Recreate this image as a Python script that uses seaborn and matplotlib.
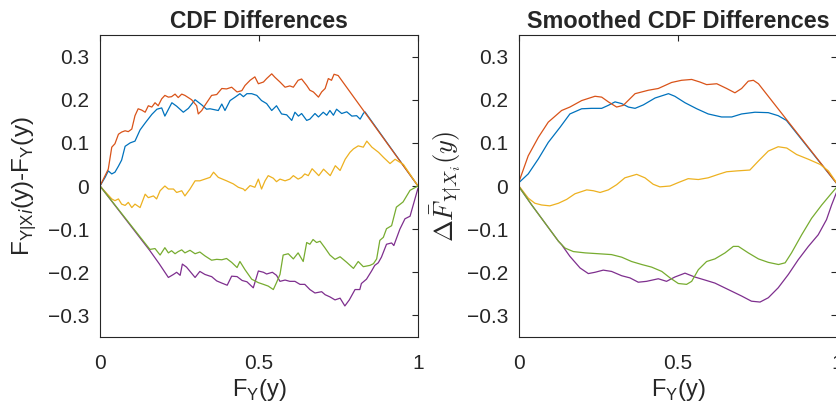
import numpy as np
import pandas as pd
import seaborn as sns
import matplotlib
matplotlib.use("Agg")
import matplotlib.pyplot as plt
from matplotlib.ticker import FuncFormatter

# ---- data ----
series_names = ["s1", "s2", "s3", "s4", "s5"]
line_colors = ["#0072BD", "#D95319", "#EDB120", "#7E2F8E", "#77AC30"]

# left panel: raw CDF differences
raw_x1 = [0, 0.016, 0.026, 0.037, 0.047, 0.058, 0.068, 0.079, 0.095, 0.11, 0.126, 0.142, 0.163, 0.179,
          0.194, 0.204, 0.226, 0.241, 0.262, 0.278, 0.299, 0.32, 0.335, 0.346, 0.372, 0.383, 0.393,
          0.409, 0.425, 0.44, 0.451, 0.462, 0.477, 0.493, 0.508, 0.524, 0.54, 0.555, 0.571, 0.587,
          0.603, 0.613, 0.624, 0.634, 0.65, 0.66, 0.676, 0.687, 0.702, 0.713, 0.723, 0.734, 0.744,
          0.76, 0.776, 0.792, 0.807, 0.818, 0.828, 0.833, 1.0]
raw_y1 = [0, 0.02, 0.035, 0.028, 0.032, 0.046, 0.06, 0.092, 0.1, 0.104, 0.13, 0.146, 0.166, 0.178,
          0.181, 0.162, 0.193, 0.185, 0.171, 0.18, 0.2, 0.188, 0.178, 0.179, 0.175, 0.19, 0.175,
          0.198, 0.206, 0.214, 0.207, 0.214, 0.214, 0.21, 0.198, 0.191, 0.175, 0.186, 0.167, 0.165,
          0.152, 0.171, 0.162, 0.168, 0.152, 0.155, 0.168, 0.16, 0.171, 0.164, 0.175, 0.164, 0.178,
          0.168, 0.172, 0.162, 0.163, 0.155, 0.168, 0.172, 0.0]

raw_x2 = [0, 0.016, 0.026, 0.037, 0.047, 0.058, 0.068, 0.079, 0.089, 0.1, 0.11, 0.12, 0.131, 0.142,
          0.152, 0.163, 0.173, 0.183, 0.194, 0.204, 0.215, 0.225, 0.236, 0.246, 0.257, 0.267, 0.288,
          0.304, 0.309, 0.32, 0.33, 0.351, 0.367, 0.383, 0.398, 0.414, 0.431, 0.446, 0.456, 0.472,
          0.487, 0.498, 0.514, 0.524, 0.54, 0.55, 0.566, 0.582, 0.597, 0.608, 0.623, 0.634, 0.65,
          0.66, 0.671, 0.687, 0.697, 0.708, 0.718, 0.728, 0.736, 0.749, 1.0]
raw_y2 = [0, 0.024, 0.039, 0.09, 0.098, 0.12, 0.125, 0.128, 0.126, 0.132, 0.163, 0.179, 0.176, 0.171,
          0.186, 0.183, 0.193, 0.186, 0.202, 0.21, 0.206, 0.207, 0.213, 0.205, 0.213, 0.21, 0.2,
          0.186, 0.167, 0.175, 0.187, 0.21, 0.212, 0.226, 0.225, 0.229, 0.218, 0.221, 0.233, 0.245,
          0.253, 0.237, 0.241, 0.249, 0.26, 0.252, 0.241, 0.229, 0.232, 0.229, 0.245, 0.248, 0.233,
          0.222, 0.218, 0.206, 0.218, 0.226, 0.249, 0.245, 0.259, 0.256, 0.0]

raw_x3 = [0, 0.037, 0.047, 0.058, 0.068, 0.079, 0.089, 0.1, 0.11, 0.126, 0.142, 0.152, 0.168, 0.178,
          0.189, 0.204, 0.215, 0.231, 0.241, 0.257, 0.267, 0.283, 0.299, 0.314, 0.33, 0.346, 0.357,
          0.372, 0.398, 0.419, 0.435, 0.451, 0.456, 0.472, 0.487, 0.498, 0.508, 0.519, 0.529, 0.545,
          0.555, 0.566, 0.582, 0.597, 0.608, 0.623, 0.634, 0.644, 0.655, 0.667, 0.688, 0.703, 0.724,
          0.74, 0.755, 0.771, 0.786, 0.797, 0.812, 0.828, 0.839, 0.855, 0.876, 0.892, 0.912, 0.928,
          0.943, 0.954, 1.0]
raw_y3 = [0, -0.03, -0.034, -0.03, -0.042, -0.045, -0.038, -0.05, -0.042, -0.05, -0.019, -0.027,
          -0.023, -0.03, -0.011, 0.0, -0.007, -0.007, -0.015, -0.011, -0.023, -0.007, 0.012, 0.012,
          0.016, 0.02, 0.032, 0.02, 0.012, 0.005, -0.003, -0.007, -0.011, 0.001, -0.003, 0.016,
          -0.007, 0.012, 0.024, 0.018, 0.01, 0.016, 0.012, 0.016, 0.024, 0.016, 0.02, 0.028, 0.024,
          0.04, 0.024, 0.039, 0.024, 0.047, 0.036, 0.062, 0.078, 0.086, 0.093, 0.09, 0.104, 0.09,
          0.078, 0.066, 0.052, 0.062, 0.055, 0.05, 0.0]

raw_x4 = [0, 0.157, 0.186, 0.215, 0.231, 0.241, 0.252, 0.259, 0.272, 0.299, 0.314, 0.33, 0.346, 0.351,
          0.367, 0.383, 0.4, 0.414, 0.431, 0.447, 0.462, 0.482, 0.498, 0.514, 0.524, 0.542, 0.555,
          0.566, 0.582, 0.597, 0.613, 0.629, 0.644, 0.66, 0.676, 0.697, 0.708, 0.723, 0.739, 0.755,
          0.77, 0.78, 0.784, 0.802, 0.817, 0.822, 0.838, 0.854, 0.864, 0.875, 0.885, 0.901, 0.917,
          0.924, 0.943, 0.959, 0.975, 0.985, 1.0]
raw_y4 = [0, -0.15, -0.18, -0.212, -0.205, -0.2, -0.207, -0.181, -0.188, -0.212, -0.198, -0.205,
          -0.209, -0.21, -0.22, -0.225, -0.23, -0.209, -0.21, -0.219, -0.222, -0.236, -0.197, -0.2,
          -0.204, -0.2, -0.207, -0.221, -0.218, -0.221, -0.221, -0.228, -0.228, -0.24, -0.248,
          -0.245, -0.252, -0.257, -0.264, -0.26, -0.278, -0.268, -0.264, -0.24, -0.24, -0.226,
          -0.216, -0.197, -0.184, -0.178, -0.165, -0.135, -0.132, -0.138, -0.1, -0.076, -0.07,
          -0.044, -0.005]

raw_x5 = [0, 0.157, 0.173, 0.189, 0.204, 0.215, 0.225, 0.236, 0.246, 0.257, 0.267, 0.283, 0.299,
          0.314, 0.33, 0.351, 0.367, 0.383, 0.398, 0.414, 0.431, 0.44, 0.456, 0.477, 0.498, 0.514,
          0.529, 0.545, 0.555, 0.566, 0.576, 0.592, 0.608, 0.623, 0.639, 0.65, 0.66, 0.67, 0.681,
          0.692, 0.707, 0.723, 0.739, 0.755, 0.776, 0.797, 0.812, 0.828, 0.849, 0.86, 0.87, 0.88,
          0.891, 0.901, 0.917, 0.932, 0.953, 0.975, 1.0]
raw_y5 = [0, -0.147, -0.145, -0.16, -0.143, -0.155, -0.15, -0.157, -0.152, -0.148, -0.155, -0.149,
          -0.157, -0.153, -0.162, -0.172, -0.17, -0.171, -0.168, -0.177, -0.189, -0.175, -0.194,
          -0.216, -0.224, -0.228, -0.232, -0.24, -0.224, -0.205, -0.16, -0.157, -0.169, -0.155,
          -0.175, -0.131, -0.135, -0.124, -0.131, -0.128, -0.143, -0.16, -0.17, -0.164, -0.177,
          -0.191, -0.175, -0.187, -0.184, -0.18, -0.169, -0.126, -0.119, -0.099, -0.092, -0.049,
          -0.037, -0.01, 0.0]

# right panel: smoothed CDF differences
sm_x1 = [0, 0.029, 0.061, 0.092, 0.129, 0.16, 0.197, 0.228, 0.26, 0.281, 0.302, 0.323, 0.344, 0.365,
         0.391, 0.428, 0.47, 0.49, 0.522, 0.559, 0.595, 0.637, 0.669, 0.7, 0.742, 0.784, 0.815,
         0.841, 1.0]
sm_y1 = [0.008, 0.028, 0.063, 0.101, 0.136, 0.167, 0.179, 0.18, 0.18, 0.187, 0.195, 0.191, 0.183,
         0.18, 0.188, 0.204, 0.214, 0.208, 0.193, 0.179, 0.167, 0.16, 0.16, 0.167, 0.171, 0.17,
         0.163, 0.152, 0.005]

sm_x2 = [0, 0.029, 0.061, 0.092, 0.134, 0.16, 0.197, 0.239, 0.26, 0.281, 0.307, 0.328, 0.365, 0.407,
         0.438, 0.48, 0.511, 0.543, 0.569, 0.59, 0.622, 0.653, 0.679, 0.7, 0.721, 0.737, 0.753, 1.0]
sm_y2 = [0.01, 0.07, 0.113, 0.148, 0.175, 0.183, 0.198, 0.208, 0.206, 0.195, 0.183, 0.187, 0.214,
         0.222, 0.226, 0.24, 0.245, 0.247, 0.241, 0.235, 0.237, 0.226, 0.216, 0.226, 0.243, 0.245,
         0.237, 0.005]

sm_x3 = [0, 0.029, 0.05, 0.071, 0.097, 0.124, 0.15, 0.176, 0.213, 0.234, 0.255, 0.281, 0.307, 0.333,
         0.37, 0.396, 0.422, 0.443, 0.475, 0.501, 0.532, 0.564, 0.595, 0.627, 0.653, 0.685, 0.726,
         0.753, 0.784, 0.815, 0.842, 0.873, 0.91, 0.947, 0.973, 1.0]
sm_y3 = [0.0, -0.028, -0.04, -0.044, -0.046, -0.04, -0.031, -0.018, -0.009, -0.011, -0.015, -0.009,
         0.003, 0.019, 0.027, 0.019, 0.004, -0.002, 0.0, 0.008, 0.017, 0.015, 0.019, 0.027, 0.033,
         0.035, 0.037, 0.058, 0.081, 0.091, 0.088, 0.073, 0.062, 0.05, 0.035, 0.006]

sm_x4 = [0, 0.04, 0.082, 0.124, 0.134, 0.16, 0.192, 0.218, 0.239, 0.265, 0.291, 0.323, 0.349, 0.375,
         0.401, 0.438, 0.464, 0.49, 0.522, 0.553, 0.585, 0.616, 0.658, 0.7, 0.731, 0.758, 0.784,
         0.815, 0.847, 0.878, 0.91, 0.941, 0.967, 0.983, 1.0]
sm_y4 = [-0.002, -0.044, -0.086, -0.128, -0.136, -0.163, -0.19, -0.203, -0.2, -0.195, -0.198,
         -0.208, -0.213, -0.223, -0.221, -0.215, -0.221, -0.211, -0.202, -0.211, -0.218, -0.225,
         -0.24, -0.255, -0.267, -0.269, -0.259, -0.236, -0.205, -0.171, -0.14, -0.113, -0.078,
         -0.044, -0.012]

sm_x5 = [0, 0.04, 0.082, 0.124, 0.145, 0.171, 0.208, 0.25, 0.291, 0.323, 0.354, 0.386, 0.417, 0.449,
         0.475, 0.501, 0.527, 0.543, 0.564, 0.59, 0.616, 0.648, 0.674, 0.69, 0.721, 0.753, 0.784,
         0.816, 0.837, 0.857, 0.889, 0.92, 0.952, 0.978, 1.0]
sm_y5 = [-0.002, -0.044, -0.086, -0.128, -0.144, -0.152, -0.155, -0.157, -0.159, -0.165, -0.175,
         -0.182, -0.188, -0.198, -0.213, -0.226, -0.228, -0.221, -0.194, -0.175, -0.169, -0.155,
         -0.14, -0.14, -0.155, -0.169, -0.177, -0.182, -0.178, -0.155, -0.113, -0.075, -0.044,
         -0.021, -0.002]

x_ticks = [0, 0.5, 1]
y_ticks = [-0.3, -0.2, -0.1, 0, 0.1, 0.2, 0.3]


def long_table(xs, ys):
    frames = []
    for name, x, y in zip(series_names, xs, ys):
        frames.append(pd.DataFrame({"x": x, "y": y, "series": name}))
    return pd.concat(frames, ignore_index=True)


def matlab_fmt(v, pos):
    # MATLAB style: "0", "0.5", "−0.3" with a real minus sign
    return ("%g" % round(v, 6)).replace("-", "\u2212")


raw_df = long_table([raw_x1, raw_x2, raw_x3, raw_x4, raw_x5],
                    [raw_y1, raw_y2, raw_y3, raw_y4, raw_y5])
sm_df = long_table([sm_x1, sm_x2, sm_x3, sm_x4, sm_x5],
                   [sm_y1, sm_y2, sm_y3, sm_y4, sm_y5])

sns.set_theme(style="white")
plt.rcParams["font.family"] = ["Liberation Sans", "DejaVu Sans"]
plt.rcParams["axes.edgecolor"] = "#262626"
plt.rcParams["axes.linewidth"] = 0.8

fig = plt.figure(figsize=(8.36, 4.13), dpi=100)
W, H = 836, 413
ax1 = fig.add_axes([100 / W, (H - 337) / H, 318 / W, 302 / H])
ax2 = fig.add_axes([519 / W, (H - 337) / H, 318 / W, 302 / H])

palette = dict(zip(series_names, line_colors))
for ax, df in [(ax1, raw_df), (ax2, sm_df)]:
    sns.lineplot(data=df, x="x", y="y", hue="series", hue_order=series_names,
                 palette=palette, sort=False, estimator=None, legend=False,
                 linewidth=0.9, ax=ax)
    ax.set_xlim(0, 1)
    ax.set_ylim(-0.35, 0.35)
    ax.set_xticks(x_ticks)
    ax.set_yticks(y_ticks)
    ax.xaxis.set_major_formatter(FuncFormatter(matlab_fmt))
    ax.yaxis.set_major_formatter(FuncFormatter(matlab_fmt))
    ax.tick_params(direction="in", length=4, width=0.8, top=True, right=True,
                   labelsize=15, colors="#262626", pad=8)
    ax.tick_params(axis="x", pad=12)
    for sp in ax.spines.values():
        sp.set_visible(True)
        sp.set_color("#262626")
    ax.set_xlabel(r"F$_{\mathregular{Y}}$(y)", fontsize=17, color="#262626", labelpad=3)

ax1.set_title("CDF Differences", fontsize=16.5, fontweight="bold", pad=5)
ax2.set_title("Smoothed CDF Differences", fontsize=16.8, fontweight="bold", pad=5)
ax1.set_ylabel(r"F$_{\mathregular{Y|X}\mathit{i}}$(y)-F$_{\mathregular{Y}}$(y)",
               fontsize=17.5, color="#262626", labelpad=7)
ax2.set_ylabel(r"$\Delta\bar{F}_{Y|X_i}(y)$", fontsize=19, color="#262626",
               math_fontfamily="cm", labelpad=2)

fig.savefig("out.png", dpi=100)
